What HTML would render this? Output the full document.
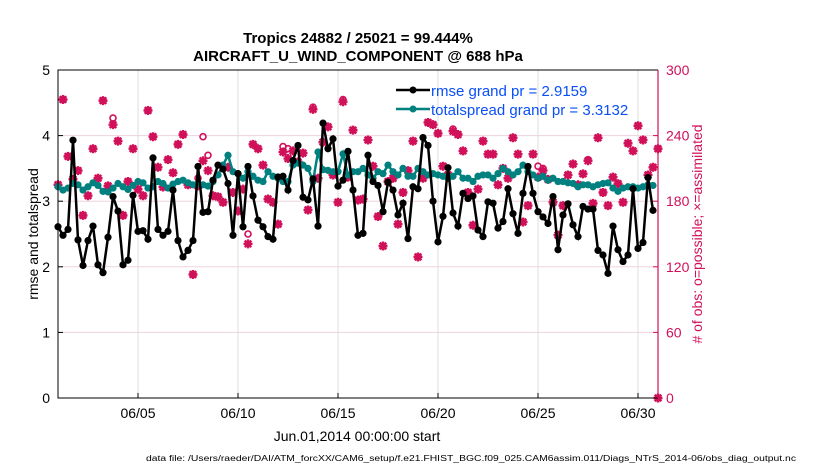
<!DOCTYPE html>
<html><head><meta charset="utf-8"><style>
body{margin:0;background:#fff;}
svg{font-family:"Liberation Sans",sans-serif;}
</style></head><body>
<svg id="chart" width="830" height="470" viewBox="0 0 830 470" xmlns="http://www.w3.org/2000/svg">
<g id="grid"></g>
<g id="obs"></g>
<g id="lines"></g>
<g id="axes"></g>
<text x="358" y="43" text-anchor="middle" font-size="15" font-weight="bold">Tropics 24882 / 25021 = 99.444%</text>
<text x="358" y="61" text-anchor="middle" font-size="15" font-weight="bold">AIRCRAFT_U_WIND_COMPONENT @ 688 hPa</text>
<text transform="translate(38,234) rotate(-90)" text-anchor="middle" font-size="14">rmse and totalspread</text>
<text transform="translate(702,234) rotate(-90)" text-anchor="middle" font-size="14" fill="#d1105a"># of obs: o=possible; ×=assimilated</text>
<text x="357" y="441" text-anchor="middle" font-size="14">Jun.01,2014 00:00:00 start</text>
<text x="146" y="461" font-size="8" textLength="650" lengthAdjust="spacingAndGlyphs">data file: /Users/raeder/DAI/ATM_forcXX/CAM6_setup/f.e21.FHIST_BGC.f09_025.CAM6assim.011/Diags_NTrS_2014-06/obs_diag_output.nc</text>
<g>
<line x1="396" y1="90" x2="430" y2="90" stroke="#000" stroke-width="2.5"/><circle cx="413" cy="90" r="3.5" fill="#000"/>
<text x="431" y="96" font-size="15" fill="#0a4ff5">rmse grand pr = 2.9159</text>
<line x1="396" y1="109" x2="430" y2="109" stroke="#00807f" stroke-width="2.5"/><circle cx="413" cy="109" r="3.5" fill="#00807f"/>
<text x="431" y="115" font-size="15" fill="#0a4ff5">totalspread grand pr = 3.3132</text>
</g>
</svg>
<script>
const xTickLabels=["06/05","06/10","06/15","06/20","06/25","06/30"];
const xTickDays=[4,9,14,19,24,29];
const yTicksLeft=[0,1,2,3,4,5];
const yTicksRight=[0,60,120,180,240,300];
const rmse=[2.61,2.48,2.57,3.93,2.41,2.02,2.40,2.62,2.03,1.91,2.45,3.07,2.85,2.03,2.10,3.09,2.54,2.55,2.42,3.66,2.57,2.48,2.54,3.17,2.40,2.15,2.25,2.40,3.53,2.83,2.84,
3.32,3.55,3.49,3.27,2.48,3.42,2.61,3.53,3.08,2.71,2.61,2.46,2.42,3.37,3.38,3.17,3.62,3.85,3.06,3.02,3.34,2.62,4.19,3.80,3.95,3.23,3.32,3.76,3.17,2.48,
2.51,3.70,3.30,3.24,2.84,3.29,3.17,2.79,2.97,2.43,3.22,3.19,3.97,3.85,3.00,2.38,2.77,3.51,2.82,2.62,3.12,3.04,3.08,2.56,2.46,2.99,2.97,2.59,2.69,3.19,
2.81,2.51,3.12,3.53,3.12,2.84,2.76,2.66,3.07,2.26,2.79,2.96,2.64,2.46,2.92,2.88,2.88,2.25,2.18,1.90,2.62,2.26,2.08,2.18,3.19,2.28,2.37,3.36,2.86];
const spread=[3.22,3.17,3.2,3.27,3.25,3.17,3.22,3.28,3.24,3.15,3.14,3.2,3.27,3.22,3.18,3.24,3.3,3.28,3.2,3.22,3.3,3.27,3.2,3.26,3.3,3.32,3.28,3.25,3.27,3.25,
3.23,3.3,3.4,3.55,3.7,3.45,3.42,3.35,3.45,3.38,3.32,3.3,3.45,3.38,3.35,3.3,3.3,3.55,3.58,3.55,3.5,3.3,3.75,3.48,3.47,3.45,3.45,3.72,3.4,3.45,
3.45,3.5,3.4,3.35,3.45,3.42,3.55,3.45,3.4,3.5,3.38,3.38,3.5,3.45,3.4,3.42,3.4,3.38,3.35,3.38,3.45,3.35,3.35,3.3,3.38,3.4,3.4,3.35,3.42,3.5,
3.45,3.4,3.45,3.55,3.45,3.4,3.35,3.38,3.32,3.35,3.3,3.3,3.28,3.27,3.22,3.25,3.25,3.22,3.25,3.27,3.28,3.2,3.15,3.2,3.22,3.22,3.2,3.22,3.25,3.24];
const assimilated=[195,273,221,200,208,167,185,228,201,272,194,250,235,167,198,228,191,185,263,239,211,193,218,206,232,241,195,113,194,217,208,
185,184,179,211,188,171,191,141,232,228,213,182,179,159,225,219,226,216,224,172,264,201,234,248,204,179,271,202,245,181,
182,236,212,166,139,198,201,159,188,208,235,129,201,252,250,242,212,204,244,241,226,188,158,191,235,223,223,195,210,201,
238,223,161,176,223,202,208,200,179,149,176,204,214,195,205,217,178,238,188,176,202,196,179,233,226,249,236,204,211,228,0];
const possible=[195,273,221,200,208,167,185,228,201,272,194,256,235,167,198,228,191,185,263,239,211,193,218,206,232,241,195,113,201,239,222,
185,184,179,211,188,171,191,150,232,228,213,182,179,159,230,228,226,216,224,172,266,201,234,248,204,179,273,202,245,181,
182,236,212,166,139,198,201,159,188,208,235,129,201,252,250,242,212,204,246,241,226,188,158,191,235,223,223,195,210,201,
238,223,161,176,223,212,210,200,179,149,176,204,214,195,205,218,178,238,188,176,202,196,179,233,226,249,236,204,211,228,0];

const L=58,R=658,T=70,B=398,NS="http://www.w3.org/2000/svg";
const xs=d=>L+d*(R-L)/30;
const yl=v=>B-v*(B-T)/5;
const yr=v=>B-v*(B-T)/300;
const dayOf=i=>i*0.25;
function mk(tag,at,parent){const e=document.createElementNS(NS,tag);for(const k in at)e.setAttribute(k,at[k]);parent.appendChild(e);return e;}
const grid=document.getElementById('grid'),axes=document.getElementById('axes'),obs=document.getElementById('obs'),lines=document.getElementById('lines');
yTicksLeft.forEach(v=>{if(v>0&&v<5){const g=mk('line',{x1:L,x2:R,y1:yl(v),y2:yl(v),stroke:'#eed3de','stroke-width':1},grid);

}
const t=mk('text',{x:L-8,y:yl(v)+5,'text-anchor':'end','font-size':14},axes);t.textContent=v;


mk('line',{x1:L,x2:L+5,y1:yl(v),y2:yl(v),stroke:'#000'},axes);});
yTicksRight.forEach(v=>{const t=mk('text',{x:R+8,y:yr(v)+5,'font-size':14,fill:'#d1105a'},axes);t.textContent=v;


mk('line',{x1:R-5,x2:R,y1:yr(v),y2:yr(v),stroke:'#d1105a'},axes);});
xTickDays.forEach((d,i)=>{const g=mk('line',{x1:xs(d),x2:xs(d),y1:T,y2:B,stroke:'#dcdcdc'},grid);


mk('line',{x1:xs(d),x2:xs(d),y1:B,y2:B-5,stroke:'#000'},axes);
const t=mk('text',{x:xs(d),y:B+20,'text-anchor':'middle','font-size':14},axes);t.textContent=xTickLabels[i];

});
mk('path',{d:`M${R},${T}H${L}V${B}H${R}`,fill:'none',stroke:'#000','stroke-width':1},axes);
const ra=mk('line',{x1:R,x2:R,y1:T,y2:B,stroke:'#d1105a','stroke-width':1.2},axes);


const C='#d1105a';
possible.forEach((v,i)=>{const d=i<120?dayOf(i):30;const c=mk('circle',{cx:xs(d),cy:yr(v),r:3,fill:'none',stroke:C,'stroke-width':1.6},obs);

});
assimilated.forEach((v,i)=>{const d=i<120?dayOf(i):30;const x=xs(d),y=yr(v);
const p=mk('path',{d:`M${x-4.5},${y}H${x+4.5}M${x},${y-4.5}V${y+4.5}M${x-3.3},${y-3.3}L${x+3.3},${y+3.3}M${x-3.3},${y+3.3}L${x+3.3},${y-3.3}`,stroke:C,'stroke-width':2.4,fill:'none'},obs);

});
function series(arr,col,name){
const pl=mk('polyline',{points:arr.map((v,i)=>xs(dayOf(i))+','+yl(v)).join(' '),fill:'none',stroke:col,'stroke-width':2.5},lines);


arr.forEach((v,i)=>{const c=mk('circle',{cx:xs(dayOf(i)),cy:yl(v),r:3.6,fill:col},lines);

});}
series(spread,'#00807f','totalspread');
series(rmse,'#000','rmse');
</script>
</body></html>
